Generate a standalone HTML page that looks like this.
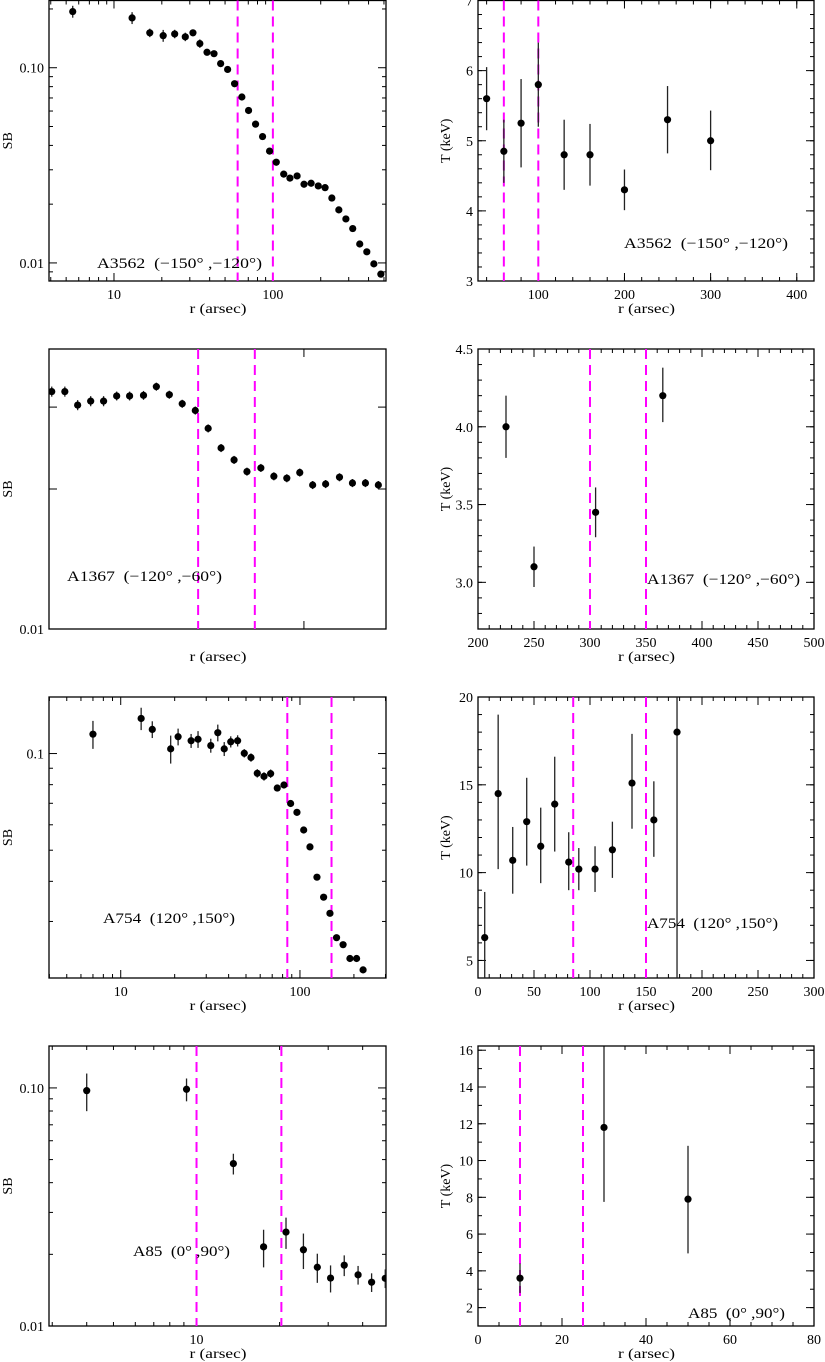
<!DOCTYPE html>
<html><head><meta charset="utf-8"><style>
html,body{margin:0;padding:0;background:#fff;}
svg{display:block;}
text{font-family:"Liberation Serif",serif;fill:#000;white-space:pre;}
</style></head><body>
<svg id="fig" width="825" height="1362" viewBox="0 0 825 1362" xmlns="http://www.w3.org/2000/svg"></svg>
<script>
// ---------- DATA ----------
const a3562SbR = [5.5,13.0,16.8,20.4,24.1,28.1,31.4,34.7,38.5,42.6,46.9,51.9,57.4,63.8,70.3,77.8,86.1,95.3,105,117,128,142,157,174,193,213,235,260,288,318,352,390,432,478];
const a3562SbVal = [0.194,0.180,0.151,0.146,0.149,0.144,0.151,0.133,0.120,0.118,0.105,0.098,0.0828,0.0708,0.0604,0.0514,0.0444,0.0374,0.0328,0.0285,0.0272,0.0279,0.0253,0.0256,0.0248,0.0243,0.0215,0.0187,0.0168,0.0150,0.0125,0.0114,0.00989,0.00876];
const a3562SbRel = [0.07,0.07,0.05,0.07,0.05,0.05,0.04,0.05,0.03,0.03,0.03,0.02,0.02,0.02,0.02,0.02,0.02,0.02,0.02,0.02,0.02,0.02,0.02,0.02,0.02,0.02,0.02,0.02,0.02,0.02,0.02,0.02,0.02,0.02];
const a3562TR = [40,60,80,100,130,160,200,250,300];
const a3562TVal = [5.6,4.85,5.25,5.8,4.8,4.8,4.3,5.3,5.0];
const a3562TLo = [5.15,4.4,4.62,5.2,4.3,4.36,4.01,4.82,4.58];
const a3562THi = [6.05,5.3,5.88,6.4,5.3,5.24,4.59,5.78,5.43];

const a1367SbR = [201.5,208.8,216.2,224,232,240.4,249,258.6,267.8,277.4,287.3,297.7,308.3,319.3,330.8,342.6,355.8,368.6,381.8,395.5,409.6,424.3,440.6,456.4,472.8,489.7];
const a1367SbVal = [0.0324,0.0324,0.0303,0.0309,0.0309,0.0317,0.0317,0.0318,0.0332,0.0319,0.0305,0.0295,0.0270,0.0245,0.0231,0.0218,0.0222,0.0213,0.0211,0.0217,0.0204,0.0205,0.0212,0.0206,0.0206,0.0204];
const a1367SbRel = [0.025,0.025,0.025,0.025,0.025,0.022,0.022,0.022,0.02,0.02,0.02,0.02,0.02,0.02,0.02,0.02,0.02,0.02,0.02,0.02,0.02,0.02,0.02,0.02,0.02,0.02];
const a1367TR = [225,250,305,365];
const a1367TVal = [4.0,3.1,3.45,4.2];
const a1367TLo = [3.8,2.97,3.29,4.03];
const a1367THi = [4.2,3.23,3.61,4.38];

const a754SbR = [7.0,13.0,15.0,19.0,20.9,24.7,27.0,31.8,34.8,37.8,41.1,44.9,48.9,53.3,57.8,63.0,68.6,74.7,81.4,88.7,96.2,104.9,113.7,124.4,135.5,147,160,174,190,207,225];
const a754SbVal = [0.1149,0.1286,0.1189,0.1034,0.1128,0.1096,0.1108,0.1059,0.1161,0.1034,0.1088,0.1096,0.1002,0.0972,0.0868,0.0849,0.0866,0.0781,0.0798,0.0699,0.0656,0.0578,0.0512,0.0412,0.0357,0.0318,0.0267,0.0254,0.0230,0.0230,0.0212];
const a754SbRel = [0.10,0.08,0.06,0.10,0.06,0.05,0.06,0.05,0.06,0.05,0.04,0.04,0.03,0.03,0.03,0.03,0.03,0.02,0.02,0.02,0.02,0.02,0.02,0.02,0.02,0.02,0.02,0.02,0.02,0.02,0.02];
const a754TR = [6,18,31,43.5,56,68.5,81,90,104.5,120,137.5,157,177.7];
const a754TVal = [6.3,14.5,10.7,12.9,11.5,13.9,10.6,10.2,10.2,11.3,15.1,13.0,18.0];
const a754TLo = [3.9,10.2,8.8,10.4,9.4,11.2,9.0,9.0,8.9,9.7,12.5,10.9,4.0];
const a754THi = [8.9,19.0,12.6,15.4,13.7,16.6,12.3,11.4,11.5,12.9,17.9,15.2,20.0];

const a85SbR = [4.0,9.2,13.6,17.5,21.1,24.4,27.4,30.6,34.3,38.5,43.1,48.3];
const a85SbVal = [0.0974,0.0987,0.0481,0.0215,0.0248,0.0209,0.01765,0.0159,0.0180,0.0164,0.01527,0.01586];
const a85SbRel = [0.18,0.11,0.10,0.18,0.15,0.17,0.14,0.13,0.10,0.09,0.09,0.09];
const a85TR = [10,30,50];
const a85TVal = [3.6,11.8,7.9];
const a85TLo = [2.8,7.75,4.95];
const a85THi = [4.4,16.2,10.8];

// ---------- RENDER ----------
const NS = 'http://www.w3.org/2000/svg';
const svg = document.getElementById('fig');
function mk(tag, attrs, parent){
  const e = document.createElementNS(NS, tag);
  for (const k in attrs) e.setAttribute(k, attrs[k]);
  (parent || svg).appendChild(e);
  return e;
}
function scale(type, d0, d1, p0, p1){
  if (type === 'log'){
    const l0 = Math.log10(d0), l1 = Math.log10(d1);
    return v => p0 + (Math.log10(v) - l0) / (l1 - l0) * (p1 - p0);
  }
  return v => p0 + (v - d0) / (d1 - d0) * (p1 - p0);
}
function logMinors(d0, d1){
  const out = [];
  for (let e = Math.floor(Math.log10(d0)); e <= Math.ceil(Math.log10(d1)); e++){
    for (let m = 2; m <= 9; m++){ const v = m * Math.pow(10, e); if (v > d0 && v < d1) out.push(v); }
  }
  return out;
}
function linTicks(d0, d1, step){
  const out = [];
  for (let v = Math.ceil(d0 / step - 1e-9) * step; v <= d1 + 1e-9; v += step) out.push(+v.toFixed(6));
  return out;
}
let clipId = 0;
function panel(cfg){
  const g = mk('g', {});
  
  
  const {x0, x1, y0, y1} = cfg;
  const X = scale(cfg.xType, cfg.xd[0], cfg.xd[1], x0, x1);
  const Y = scale(cfg.yType, cfg.yd[0], cfg.yd[1], y1, y0);
  const cid = 'c' + (clipId++);
  const cp = mk('clipPath', {id: cid}, g);
  mk('rect', {x: x0, y: y0, width: x1 - x0, height: y1 - y0}, cp);
  const fr = mk('rect', {x: x0, y: y0, width: x1 - x0, height: y1 - y0, fill: 'none', stroke: '#000', 'stroke-width': 1.3}, g);
  
  
  const tg = mk('g', {stroke: '#000', 'stroke-width': 1}, g);
  
  
  function xt(v, len){ const p = X(v); mk('line', {x1: p, x2: p, y1: y1, y2: y1 - len}, tg); mk('line', {x1: p, x2: p, y1: y0, y2: y0 + len}, tg); }
  function yt(v, len){ const p = Y(v); mk('line', {x1: x0, x2: x0 + len, y1: p, y2: p}, tg); mk('line', {x1: x1, x2: x1 - len, y1: p, y2: p}, tg); }
  cfg.xMinor.forEach(v => xt(v, 4));
  cfg.xMajor.forEach(v => xt(v, 8));
  cfg.yMinor.forEach(v => yt(v, 4));
  cfg.yMajor.forEach(v => yt(v, 8));
  cfg.xLabels.forEach(([v, s]) => {
    const t = mk('text', {x: X(v), y: y1 + 18, 'text-anchor': 'middle', 'font-size': 14}, g);
    t.textContent = s;
    
    
  });
  cfg.yLabels.forEach(([v, s]) => {
    const t = mk('text', {x: x0 - 5, y: Y(v) + 5, 'text-anchor': 'end', 'font-size': 14}, g);
    t.textContent = s;
    
    
  });
  const xtitle = mk('text', {x: (x0 + x1) / 2 - 28, y: y1 + 32, 'font-size': 14, textLength: 57, lengthAdjust: 'spacingAndGlyphs'}, g);
  xtitle.textContent = 'r (arsec)';
  
  
  const yc = (y0 + y1) / 2;
  const ytitle = mk('text', {x: cfg.ytx, y: yc, 'text-anchor': 'middle', 'font-size': 14, transform: `rotate(-90 ${cfg.ytx} ${yc})`, dy: 4}, g);
  ytitle.textContent = cfg.yTitle;
  
  
  cfg.dashed.forEach(v => {
    const l = mk('line', {x1: X(v), x2: X(v), y1: y0, y2: y1, stroke: '#ff00ff', 'stroke-width': 2, 'stroke-dasharray': '10 6'}, g);
    
    
  });
  const dg = mk('g', {'clip-path': `url(#${cid})`}, g);
  
  
  cfg.r.forEach((r, i) => {
    const v = cfg.v[i];
    const lo = cfg.lo ? cfg.lo[i] : v * (1 - cfg.rel[i]);
    const hi = cfg.hi ? cfg.hi[i] : v * (1 + cfg.rel[i]);
    const eb = mk('line', {x1: X(r), x2: X(r), y1: Y(lo), y2: Y(hi), stroke: '#222', 'stroke-width': 1.3}, dg);
    
    
    const c = mk('circle', {cx: X(r), cy: Y(v), r: 3.6, fill: '#000'}, dg);
    
    
  });
  const lab = mk('text', {x: cfg.lab[0], y: cfg.lab[1], 'font-size': 15, textLength: cfg.lab[2], lengthAdjust: 'spacingAndGlyphs'}, g);
  lab.textContent = cfg.label;
  
  
}

const LX0 = 49, LX1 = 386, RX0 = 478, RX1 = 814;
panel({name:'a3562-sb-panel', x0:LX0, x1:LX1, y0:0.5, y1:281, xType:'log', xd:[3.9,515], yType:'log', yd:[0.00808,0.221],
  xMajor:[10,100], xMinor:logMinors(3.9,515), yMajor:[0.01,0.1], yMinor:logMinors(0.00808,0.221),
  xLabels:[[10,'10'],[100,'100']], yLabels:[[0.1,'0.10'],[0.01,'0.01']], yTitle:'SB', ytx:8,
  dashed:[60,100], r:a3562SbR, v:a3562SbVal, rel:a3562SbRel, label:'A3562  (\u2212150\u00b0 ,\u2212120\u00b0)', lab:[97,268,165]});
panel({name:'a3562-t-panel', x0:RX0, x1:RX1, y0:0.5, y1:281, xType:'lin', xd:[30,420], yType:'lin', yd:[3,7],
  xMajor:linTicks(30,420,100), xMinor:linTicks(30,420,20), yMajor:linTicks(3,7,1), yMinor:linTicks(3,7,0.2),
  xLabels:[[100,'100'],[200,'200'],[300,'300'],[400,'400']], yLabels:[[3,'3'],[4,'4'],[5,'5'],[6,'6'],[7,'7']], yTitle:'T (keV)', ytx:446,
  dashed:[60,100], r:a3562TR, v:a3562TVal, lo:a3562TLo, hi:a3562THi, label:'A3562  (\u2212150\u00b0 ,\u2212120\u00b0)', lab:[624,248,164]});
panel({name:'a1367-sb-panel', x0:LX0, x1:LX1, y0:349, y1:629, xType:'log', xd:[200,500], yType:'log', yd:[0.01,0.04],
  xMajor:[300,400], xMinor:[], yMajor:[0.01,0.02,0.03], yMinor:[],
  xLabels:[], yLabels:[[0.01,'0.01']], yTitle:'SB', ytx:8,
  dashed:[300,350], r:a1367SbR, v:a1367SbVal, rel:a1367SbRel, label:'A1367  (\u2212120\u00b0 ,\u221260\u00b0)', lab:[67,581,155]});
panel({name:'a1367-t-panel', x0:RX0, x1:RX1, y0:349, y1:629, xType:'lin', xd:[200,500], yType:'lin', yd:[2.7,4.5],
  xMajor:linTicks(200,500,50), xMinor:linTicks(200,500,10), yMajor:linTicks(2.7,4.5,0.5), yMinor:linTicks(2.7,4.5,0.1),
  xLabels:[[200,'200'],[250,'250'],[300,'300'],[350,'350'],[400,'400'],[450,'450'],[500,'500']],
  yLabels:[[3,'3.0'],[3.5,'3.5'],[4,'4.0'],[4.5,'4.5']], yTitle:'T (keV)', ytx:446,
  dashed:[300,350], r:a1367TR, v:a1367TVal, lo:a1367TLo, hi:a1367THi, label:'A1367  (\u2212120\u00b0 ,\u221260\u00b0)', lab:[647,584,153]});
panel({name:'a754-sb-panel', x0:LX0, x1:LX1, y0:697, y1:978, xType:'log', xd:[3.98,302], yType:'log', yd:[0.02,0.15],
  xMajor:[10,100], xMinor:logMinors(3.98,302), yMajor:[0.1], yMinor:logMinors(0.02,0.15),
  xLabels:[[10,'10'],[100,'100']], yLabels:[[0.1,'0.1']], yTitle:'SB', ytx:8,
  dashed:[85,150], r:a754SbR, v:a754SbVal, rel:a754SbRel, label:'A754  (120\u00b0 ,150\u00b0)', lab:[103,923,132]});
panel({name:'a754-t-panel', x0:RX0, x1:RX1, y0:697, y1:978, xType:'lin', xd:[0,300], yType:'lin', yd:[4,20],
  xMajor:linTicks(0,300,50), xMinor:linTicks(0,300,10), yMajor:linTicks(4,20,5), yMinor:linTicks(4,20,1),
  xLabels:[[0,'0'],[50,'50'],[100,'100'],[150,'150'],[200,'200'],[250,'250'],[300,'300']],
  yLabels:[[5,'5'],[10,'10'],[15,'15'],[20,'20']], yTitle:'T (keV)', ytx:446,
  dashed:[85,150], r:a754TR, v:a754TVal, lo:a754TLo, hi:a754THi, label:'A754  (120\u00b0 ,150\u00b0)', lab:[647,928,131]});
panel({name:'a85-sb-panel', x0:LX0, x1:LX1, y0:1046, y1:1326, xType:'log', xd:[2.92,48.6], yType:'log', yd:[0.01,0.15],
  xMajor:[10], xMinor:logMinors(2.92,48.6), yMajor:[0.01,0.1], yMinor:logMinors(0.01,0.15),
  xLabels:[[10,'10']], yLabels:[[0.1,'0.10'],[0.01,'0.01']], yTitle:'SB', ytx:8,
  dashed:[10,20.3], r:a85SbR, v:a85SbVal, rel:a85SbRel, label:'A85  (0\u00b0 ,90\u00b0)', lab:[133,1256,97]});
panel({name:'a85-t-panel', x0:RX0, x1:RX1, y0:1046, y1:1326, xType:'lin', xd:[0,80], yType:'lin', yd:[1,16.23],
  xMajor:linTicks(0,80,20), xMinor:linTicks(0,80,5), yMajor:linTicks(2,16,2), yMinor:linTicks(1,16,1),
  xLabels:[[0,'0'],[20,'20'],[40,'40'],[60,'60'],[80,'80']],
  yLabels:[[2,'2'],[4,'4'],[6,'6'],[8,'8'],[10,'10'],[12,'12'],[14,'14'],[16,'16']], yTitle:'T (keV)', ytx:446,
  dashed:[10,25], r:a85TR, v:a85TVal, lo:a85TLo, hi:a85THi, label:'A85  (0\u00b0 ,90\u00b0)', lab:[688,1318,97]});
</script>
</body></html>
